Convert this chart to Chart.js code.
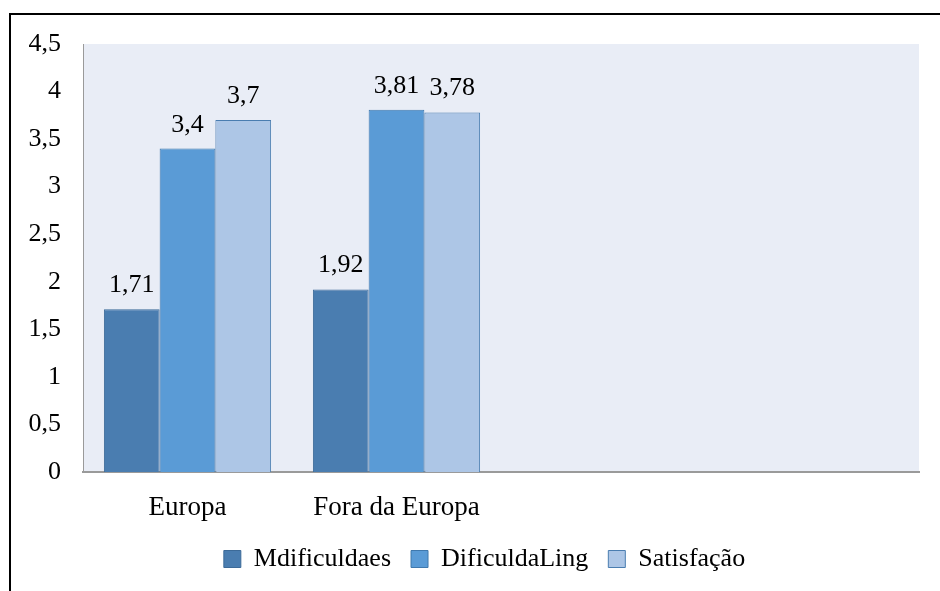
<!DOCTYPE html>
<html>
<head>
<meta charset="utf-8">
<script src="https://cdn.jsdelivr.net/npm/chart.js@4"></script>
<style>
  html, body { margin: 0; padding: 0; background: #ffffff; }
  #wrap { position: relative; width: 940px; height: 591px; }
</style>
</head>
<body>
<div id="wrap"><canvas id="chart" width="940" height="591"></canvas></div>
<script>
// Chart data
const categories = ['Europa', 'Fora da Europa', '', ''];
const mdificuldaes = [1.71, 1.92, null, null];
const dificuldaLing = [3.4, 3.81, null, null];
const satisfacao = [3.7, 3.78, null, null];
const yTicks = [0, 0.5, 1, 1.5, 2, 2.5, 3, 3.5, 4, 4.5];

const FONT = "'Liberation Serif', 'Times New Roman', serif";

function comma(v) {
    return String(v).replace('.', ',');
}

// Outer frame + plot background
const framePlugin = {
    id: 'frame',
    afterLayout(chart) {
        // nudge the legend a little to the right, like the original
        if (chart.legend) {
            chart.legend.left += 25;
            chart.legend.right += 25;
        }
    },
    beforeDraw(chart) {
        const ctx = chart.ctx;
        const a = chart.chartArea;
        ctx.save();
        ctx.fillStyle = '#ffffff';
        ctx.fillRect(0, 0, chart.width, chart.height);
        ctx.fillStyle = '#e9edf6';
        ctx.fillRect(a.left, a.top, a.right - a.left, a.bottom - a.top);
        ctx.strokeStyle = '#000000';
        ctx.lineWidth = 2;
        ctx.beginPath();
        ctx.moveTo(10, chart.height + 2);
        ctx.lineTo(10, 14);
        ctx.lineTo(chart.width + 2, 14);
        ctx.stroke();
        ctx.restore();
    }
};

// Value labels above bars
const valueLabels = {
    id: 'valueLabels',
    afterDatasetsDraw(chart) {
        const ctx = chart.ctx;
        ctx.save();
        ctx.font = '26px ' + FONT;
        ctx.fillStyle = '#000000';
        ctx.textAlign = 'center';
        ctx.textBaseline = 'alphabetic';
        chart.data.datasets.forEach((ds, i) => {
            chart.getDatasetMeta(i).data.forEach((bar, j) => {
                const v = ds.data[j];
                if (v == null) return;
                ctx.fillText(comma(v), bar.x, bar.y - 17);
            });
        });
        ctx.restore();
    }
};

new Chart(document.getElementById('chart'), {
    type: 'bar',
    data: {
        labels: categories,
        datasets: [{
            label: 'Mdificuldaes',
            data: mdificuldaes,
            backgroundColor: '#4a7db0',
            borderColor: '#3c6a98',
            borderWidth: 1
        }, {
            label: 'DificuldaLing',
            data: dificuldaLing,
            backgroundColor: '#5a9bd6',
            borderColor: '#3f78ad',
            borderWidth: 1
        }, {
            label: 'Satisfação',
            data: satisfacao,
            backgroundColor: '#adc6e6',
            borderColor: '#4a7db0',
            borderWidth: 1
        }]
    },
    options: {
        responsive: false,
        animation: false,
        layout: { padding: { top: 44, right: 21, bottom: 9, left: 0 } },
        datasets: { bar: { categoryPercentage: 0.8, barPercentage: 1.0 } },
        plugins: {
            legend: {
                position: 'bottom',
                labels: {
                    color: '#000000',
                    font: { family: FONT, size: 26 },
                    boxWidth: 17,
                    boxHeight: 17,
                    padding: 20
                }
            },
            tooltip: { enabled: false }
        },
        scales: {
            x: {
                grid: { display: false, drawTicks: false },
                border: { color: '#9a9a9a', width: 2 },
                ticks: {
                    color: '#000000',
                    font: { family: FONT, size: 27 },
                    padding: 20,
                    maxRotation: 0
                },
                afterFit(scale) { scale.height = 54; }
            },
            y: {
                min: 0,
                max: 4.5,
                grid: { display: false, drawTicks: false },
                border: { color: '#9a9a9a', width: 1 },
                afterBuildTicks(scale) {
                    scale.ticks = yTicks.map(v => ({ value: v }));
                },
                ticks: {
                    color: '#000000',
                    font: { family: FONT, size: 26 },
                    padding: 22,
                    callback: v => comma(v)
                },
                afterFit(scale) { scale.width = 83; }
            }
        }
    },
    plugins: [framePlugin, valueLabels]
});
</script>
</body>
</html>
